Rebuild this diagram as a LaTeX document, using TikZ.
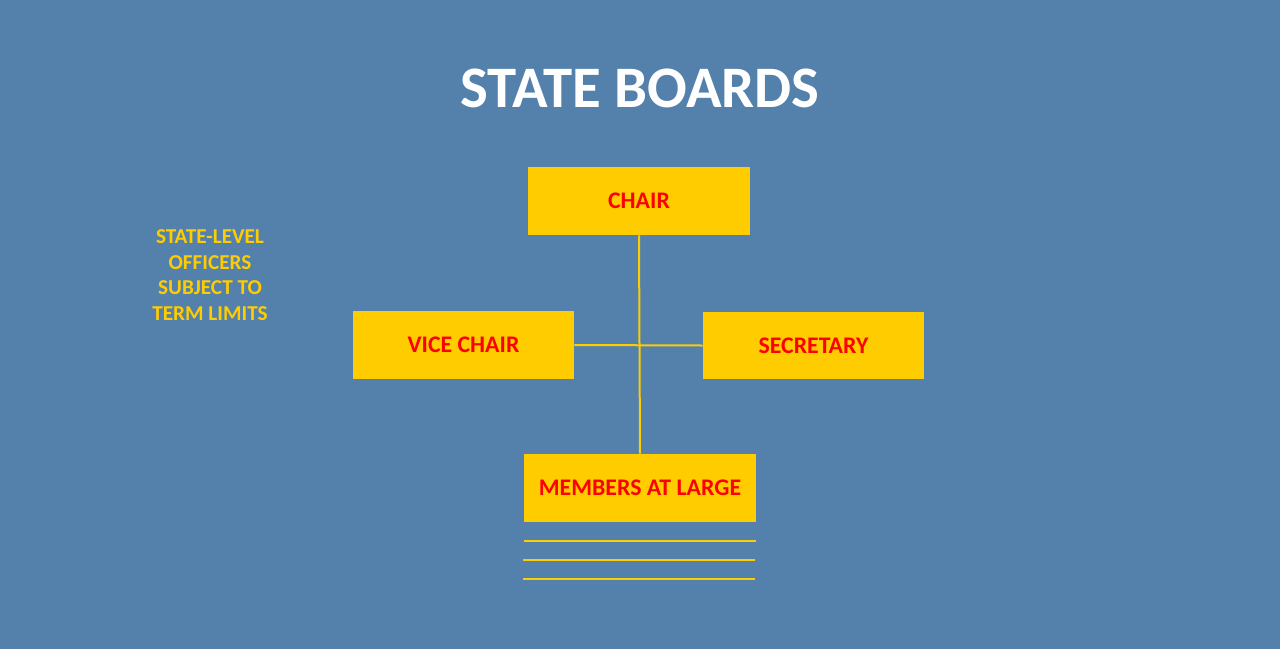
\documentclass[tikz,border=0pt]{standalone}
\usepackage{fontspec}
\setmainfont{Carlito}
\definecolor{bgblue}{RGB}{83,129,172}
\definecolor{boxyellow}{RGB}{255,204,0}
\definecolor{txtred}{RGB}{255,0,0}
\begin{document}
\begin{tikzpicture}[x=0.5pt,y=-0.5pt,
  rolebox/.style={fill=boxyellow,draw=none,inner sep=0pt,text=txtred,font=\fontsize{11.9}{14}\selectfont\bfseries},
  link/.style={draw=boxyellow,line width=1pt}]
\fill[bgblue] (0,0) rectangle (1280,649);
\useasboundingbox (0,0) rectangle (1280,649);
\node[font=\fontsize{29.4}{35}\selectfont\bfseries,text=white] (title) at (640,88) {STATE BOARDS};
\node[rolebox,minimum width=111pt,minimum height=34pt] (chair) at (639,201) {CHAIR};
\node[rolebox,minimum width=110.5pt,minimum height=34pt] (vice) at (463.5,345) {VICE CHAIR};
\node[rolebox,minimum width=110.5pt,minimum height=33.5pt] (sec) at (813.5,345.5) {SECRETARY};
\node[rolebox,minimum width=116pt,minimum height=34pt] (mem) at (640,488) {MEMBERS AT LARGE};
\node[text=boxyellow,font=\fontsize{10.6}{12.75}\selectfont\bfseries,align=center] (note) at (210,275) {STATE-LEVEL\\OFFICERS\\SUBJECT TO\\TERM LIMITS};
\draw[link] (chair.south) -- (mem.north);
\draw[link] (vice.east) -- (sec.west);
\coordinate (l1a) at (524,541); \coordinate (l1b) at (756,541);
\coordinate (l2a) at (523,560); \coordinate (l2b) at (755,560);
\coordinate (l3a) at (523,579); \coordinate (l3b) at (755,579);
\draw[link] (l1a) -- (l1b);
\draw[link] (l2a) -- (l2b);
\draw[link] (l3a) -- (l3b);
\end{tikzpicture}
\end{document}
